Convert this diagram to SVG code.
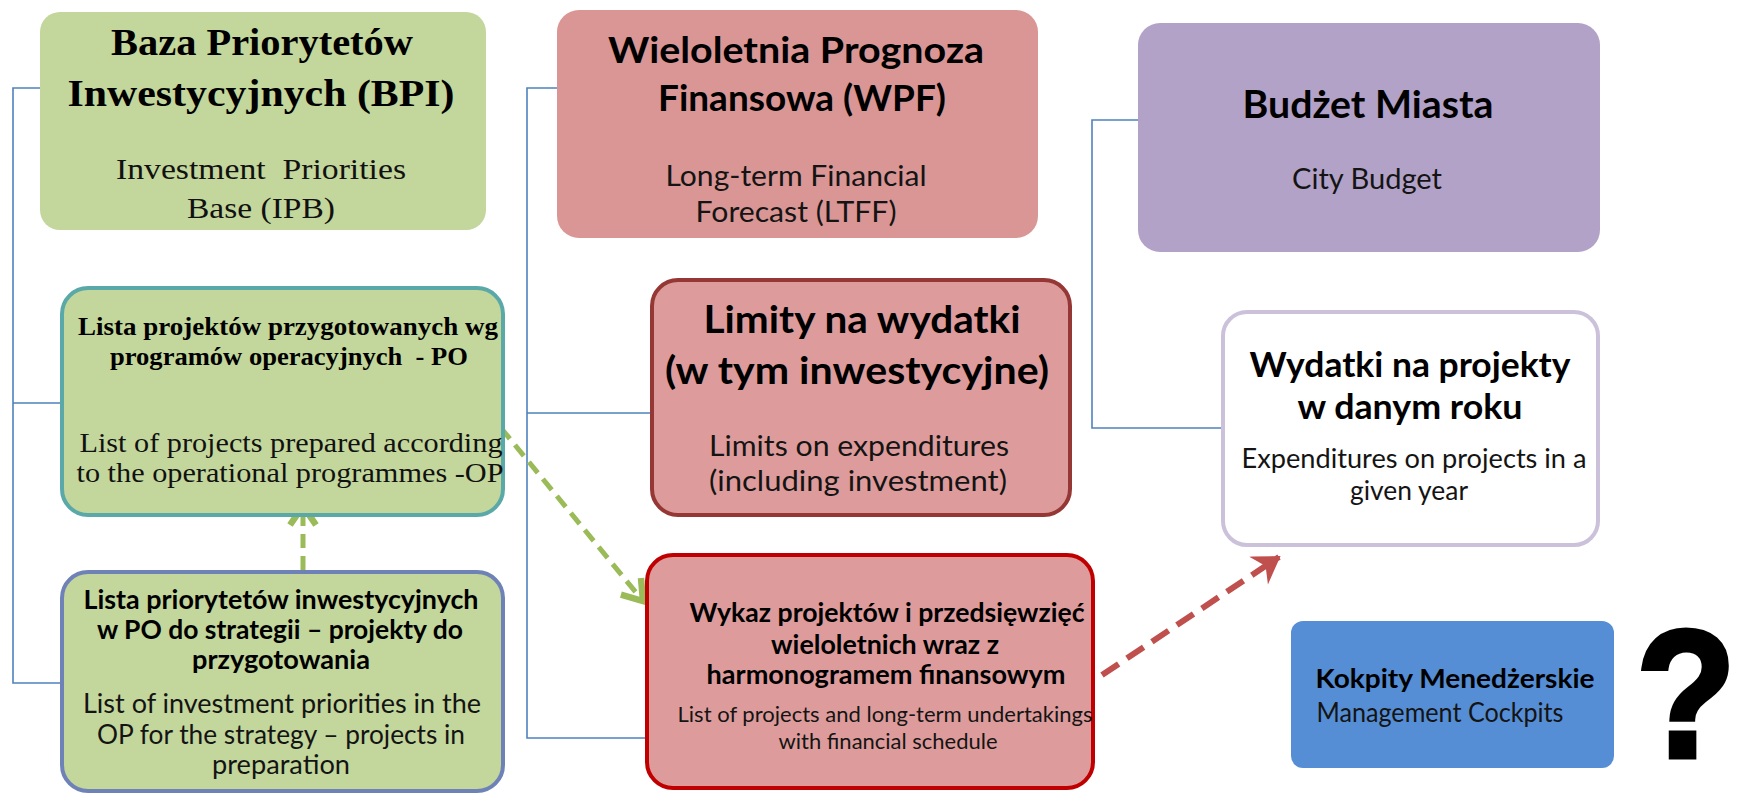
<svg xmlns="http://www.w3.org/2000/svg" width="1745" height="795" viewBox="0 0 1745 795">
<style>
.serB{font-family:"Liberation Serif","Times New Roman",serif;font-weight:bold;fill:#000}
.ser{font-family:"Liberation Serif","Times New Roman",serif;fill:#111}
.sanB{font-family:Lato,"Liberation Sans",sans-serif;font-weight:bold;fill:#000}
.san{font-family:Lato,"Liberation Sans",sans-serif;fill:#141414}
text{text-anchor:middle}
.conn{fill:none;stroke:#4f81bd;stroke-width:1.6}
.dashG{fill:none;stroke:#9bbb59;stroke-width:5;stroke-dasharray:14 8}
.dashR{fill:none;stroke:#c0504d;stroke-width:6;stroke-dasharray:20 10}
</style>
<defs>
<marker id="ahG" markerUnits="userSpaceOnUse" markerWidth="40" markerHeight="40" viewBox="-25 -20 40 40" refX="0" refY="0" orient="auto">
<path d="M-19,-13 L0,0 L-19,13" fill="none" stroke="#9bbb59" stroke-width="6.5"/>
</marker>
<marker id="ahR" markerUnits="userSpaceOnUse" markerWidth="40" markerHeight="40" viewBox="-25 -20 40 40" refX="0" refY="0" orient="auto">
<path d="M-22,-14 L0,0 L-22,14 L-15,0 z" fill="#c0504d" stroke="#c0504d" stroke-width="2"/>
</marker>
</defs>
<rect width="1745" height="795" fill="#fff"/>

<g id="connectors">
<path class="conn" d="M40,88 H13 V683 H62 M13,403 H62"/>
<path class="conn" d="M557,88 H527 V738 H647 M527,413 H652"/>
<path class="conn" d="M1138,120 H1092 V428 H1223"/>
<path class="dashG" d="M501,428 L643,601" marker-end="url(#ahG)"/>
<path class="dashG" d="M303,570 L303,506" marker-end="url(#ahG)"/>
<path class="dashR" d="M1102,675 L1279,557" marker-end="url(#ahR)"/>
</g>

<g id="node-bpi">
<rect x="40" y="12" width="446" height="218" rx="20" fill="#c3d69b"/>
<text class="serB" x="262" y="55" font-size="38" textLength="302" lengthAdjust="spacingAndGlyphs">Baza Priorytetów</text>
<text class="serB" x="261" y="106" font-size="38" textLength="387" lengthAdjust="spacingAndGlyphs">Inwestycyjnych (BPI)</text>
<text class="ser" x="261" y="179" font-size="29" textLength="290" lengthAdjust="spacingAndGlyphs" xml:space="preserve">Investment  Priorities</text>
<text class="ser" x="261" y="218" font-size="29" textLength="148" lengthAdjust="spacingAndGlyphs">Base (IPB)</text>
</g>

<g id="node-po-list">
<rect x="62" y="288" width="441" height="227" rx="26" fill="#c3d69b" stroke="#5aa9a8" stroke-width="4"/>
<text class="serB" x="288" y="335" font-size="25" textLength="420" lengthAdjust="spacingAndGlyphs">Lista projektów przygotowanych wg</text>
<text class="serB" x="289" y="365" font-size="25" textLength="358" lengthAdjust="spacingAndGlyphs" xml:space="preserve">programów operacyjnych  - PO</text>
<text class="ser" x="291" y="452" font-size="27" textLength="423" lengthAdjust="spacingAndGlyphs">List of projects prepared according</text>
<text class="ser" x="290" y="482" font-size="27" textLength="427" lengthAdjust="spacingAndGlyphs">to the operational programmes -OP</text>
</g>

<g id="node-priorities">
<rect x="62" y="572" width="441" height="219" rx="26" fill="#c3d69b" stroke="#6f82b8" stroke-width="4"/>
<text class="sanB" x="281" y="609" font-size="27" textLength="395" lengthAdjust="spacingAndGlyphs">Lista priorytetów inwestycyjnych</text>
<text class="sanB" x="280" y="639" font-size="27" textLength="366" lengthAdjust="spacingAndGlyphs">w PO do strategii – projekty do</text>
<text class="sanB" x="281" y="669" font-size="27" textLength="178" lengthAdjust="spacingAndGlyphs">przygotowania</text>
<text class="san" x="282" y="713" font-size="27" textLength="398" lengthAdjust="spacingAndGlyphs">List of investment priorities in the</text>
<text class="san" x="281" y="744" font-size="27" textLength="368" lengthAdjust="spacingAndGlyphs">OP for the strategy – projects in</text>
<text class="san" x="281" y="774" font-size="27" textLength="138" lengthAdjust="spacingAndGlyphs">preparation</text>
</g>

<g id="node-wpf">
<rect x="557" y="10" width="481" height="228" rx="22" fill="#d99694"/>
<text class="sanB" x="796" y="63" font-size="36" textLength="376" lengthAdjust="spacingAndGlyphs">Wieloletnia Prognoza</text>
<text class="sanB" x="802" y="111" font-size="36" textLength="288" lengthAdjust="spacingAndGlyphs">Finansowa (WPF)</text>
<text class="san" x="796" y="186" font-size="28" textLength="261" lengthAdjust="spacingAndGlyphs">Long-term Financial</text>
<text class="san" x="796" y="222" font-size="28" textLength="201" lengthAdjust="spacingAndGlyphs">Forecast (LTFF)</text>
</g>

<g id="node-limity">
<rect x="652" y="280" width="418" height="235" rx="26" fill="#dd9c9b" stroke="#953735" stroke-width="4"/>
<text class="sanB" x="862" y="333" font-size="38" textLength="317" lengthAdjust="spacingAndGlyphs">Limity na wydatki</text>
<text class="sanB" x="857" y="384" font-size="38" textLength="384" lengthAdjust="spacingAndGlyphs">(w tym inwestycyjne)</text>
<text class="san" x="859" y="456" font-size="29" textLength="300" lengthAdjust="spacingAndGlyphs">Limits on expenditures</text>
<text class="san" x="858" y="491" font-size="29" textLength="298" lengthAdjust="spacingAndGlyphs">(including investment)</text>
</g>

<g id="node-wykaz">
<rect x="647" y="555" width="446" height="233" rx="26" fill="#dd9c9b" stroke="#c00000" stroke-width="4"/>
<text class="sanB" x="887" y="622" font-size="26" textLength="395" lengthAdjust="spacingAndGlyphs">Wykaz projektów i przedsięwzięć</text>
<text class="sanB" x="885" y="654" font-size="26" textLength="228" lengthAdjust="spacingAndGlyphs">wieloletnich wraz z</text>
<text class="sanB" x="886" y="684" font-size="26" textLength="359" lengthAdjust="spacingAndGlyphs">harmonogramem finansowym</text>
<text class="san" x="885" y="722" font-size="22" textLength="415" lengthAdjust="spacingAndGlyphs">List of projects and long-term undertakings</text>
<text class="san" x="888" y="749" font-size="22" textLength="219" lengthAdjust="spacingAndGlyphs">with financial schedule</text>
</g>

<g id="node-budzet">
<rect x="1138" y="23" width="462" height="229" rx="22" fill="#b3a2c7"/>
<text class="sanB" x="1368" y="118" font-size="38" textLength="251" lengthAdjust="spacingAndGlyphs">Budżet Miasta</text>
<text class="san" x="1367" y="189" font-size="28" textLength="150" lengthAdjust="spacingAndGlyphs">City Budget</text>
</g>

<g id="node-wydatki">
<rect x="1223" y="312" width="375" height="233" rx="24" fill="#fff" stroke="#ccc1da" stroke-width="4"/>
<text class="sanB" x="1410" y="377" font-size="34" textLength="321" lengthAdjust="spacingAndGlyphs">Wydatki na projekty</text>
<text class="sanB" x="1410" y="419" font-size="34" textLength="225" lengthAdjust="spacingAndGlyphs">w danym roku</text>
<text class="san" x="1414" y="468" font-size="26" textLength="345" lengthAdjust="spacingAndGlyphs">Expenditures on projects in a</text>
<text class="san" x="1409" y="500" font-size="26" textLength="118" lengthAdjust="spacingAndGlyphs">given year</text>
</g>

<g id="node-kokpity">
<rect x="1291" y="621" width="323" height="147" rx="12" fill="#558ed5"/>
<text class="sanB" x="1455" y="688" font-size="26" textLength="279" lengthAdjust="spacingAndGlyphs">Kokpity Menedżerskie</text>
<text class="san" x="1440" y="722" font-size="26" textLength="247" lengthAdjust="spacingAndGlyphs">Management Cockpits</text>
</g>

<g id="question">
<text x="1686" y="757" font-family="Liberation Sans, Arial, sans-serif" font-weight="bold" font-size="182" textLength="100" lengthAdjust="spacingAndGlyphs" fill="#000" stroke="#000" stroke-width="5">?</text>
</g>
</svg>
